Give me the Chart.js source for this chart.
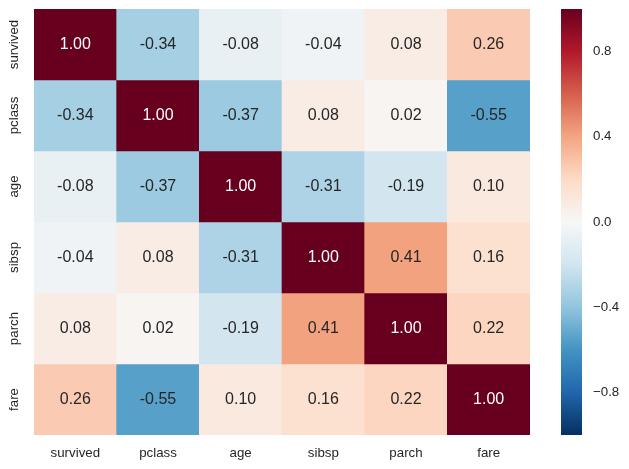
<!DOCTYPE html>
<html>
<head>
<meta charset="utf-8">
<script src="https://cdn.jsdelivr.net/npm/chart.js@4/dist/chart.umd.min.js"></script>
<style>
  html, body { margin: 0; padding: 0; background: #ffffff; }
  #wrap { position: relative; width: 629px; height: 469px; overflow: hidden; }
  #heat { position: absolute; left: 0; top: 0; }
  #cbar { position: absolute; left: 545px; top: 0; }
</style>
</head>
<body>
<div id="wrap">
  <canvas id="heat" width="545" height="469" style="width:545px;height:469px"></canvas>
  <canvas id="cbar" width="84" height="469" style="width:84px;height:469px"></canvas>
</div>
<script>
// ---- data ----
const columns = ['survived', 'pclass', 'age', 'sibsp', 'parch', 'fare'];
const rowLabels = ['survived', 'pclass', 'age', 'sibsp', 'parch', 'fare'];
const survivedRow = [1.00, -0.34, -0.08, -0.04, 0.08, 0.26];
const pclassRow   = [-0.34, 1.00, -0.37, 0.08, 0.02, -0.55];
const ageRow      = [-0.08, -0.37, 1.00, -0.31, -0.19, 0.10];
const sibspRow    = [-0.04, 0.08, -0.31, 1.00, 0.41, 0.16];
const parchRow    = [0.08, 0.02, -0.19, 0.41, 1.00, 0.22];
const fareRow     = [0.26, -0.55, 0.10, 0.16, 0.22, 1.00];
const colorbarTicks = [-0.8, -0.4, 0.0, 0.4, 0.8];
const vmin = -1, vmax = 1;

const matrix = [survivedRow, pclassRow, ageRow, sibspRow, parchRow, fareRow];

// ---- styles ----
const RDBU_R = ['#053061','#2166ac','#4393c3','#92c5de','#d1e5f0','#f7f7f7','#fddbc7','#f4a582','#d6604d','#b2182b','#67001f'];
const FONT = '"Liberation Sans", Arial, Helvetica, sans-serif';
const TEXT = '#262626';

function hexToRgb(h) {
  return [parseInt(h.slice(1,3),16), parseInt(h.slice(3,5),16), parseInt(h.slice(5,7),16)];
}
const anchorsRgb = RDBU_R.map(hexToRgb);
function cmapRgb(v) {
  let t = (v - vmin) / (vmax - vmin);
  t = Math.max(0, Math.min(1, t)) * (anchorsRgb.length - 1);
  const i = Math.min(Math.floor(t), anchorsRgb.length - 2);
  const f = t - i;
  const a = anchorsRgb[i], b = anchorsRgb[i + 1];
  return [0,1,2].map(k => a[k] + (b[k] - a[k]) * f);
}
function cmap(v) {
  const c = cmapRgb(v);
  return 'rgb(' + c.map(x => Math.round(x)).join(',') + ')';
}
function annotColor(v) {
  const c = cmapRgb(v).map(x => x / 255);
  const lum = 0.299 * c[0] + 0.587 * c[1] + 0.114 * c[2];
  return lum > 0.408 ? TEXT : '#ffffff';
}

// ---- heatmap ----
const datasets = matrix.map((row, i) => ({
  label: rowLabels[i],
  data: columns.map(() => [i, i + 1]),
  values: row,
  backgroundColor: row.map(cmap),
  borderWidth: 0,
  grouped: false,
  barPercentage: 1,
  categoryPercentage: 1
}));

const annotPlugin = {
  id: 'annot',
  afterDatasetsDraw(chart) {
    const ctx = chart.ctx;
    ctx.save();
    ctx.font = '16px ' + FONT;
    ctx.textAlign = 'center';
    ctx.textBaseline = 'middle';
    chart.data.datasets.forEach((ds, di) => {
      const meta = chart.getDatasetMeta(di);
      meta.data.forEach((el, j) => {
        const v = ds.values[j];
        ctx.fillStyle = annotColor(v);
        ctx.fillText(v.toFixed(2), el.x, (el.y + el.base) / 2);
      });
    });
    ctx.restore();
  }
};

new Chart(document.getElementById('heat'), {
  type: 'bar',
  data: { labels: columns, datasets },
  options: {
    responsive: false,
    animation: false,
    devicePixelRatio: 1,
    layout: { padding: { left: 0, top: 9, right: 15, bottom: 0 } },
    plugins: { legend: { display: false }, tooltip: { enabled: false } },
    scales: {
      x: {
        type: 'category',
        grid: { display: false },
        border: { display: false },
        ticks: { color: TEXT, font: { family: FONT, size: 13.3 }, padding: 2, maxRotation: 0, autoSkip: false },
        afterFit(s) { s.height = 34; s.paddingLeft = 0; s.paddingRight = 0; }
      },
      y: {
        type: 'linear',
        min: 0, max: rowLabels.length,
        reverse: true,
        grid: { display: false },
        border: { display: false },
        afterBuildTicks(axis) { axis.ticks = rowLabels.map((_, i) => ({ value: i + 0.5 })); },
        ticks: {
          color: TEXT, font: { family: FONT, size: 13.3 },
          minRotation: 90, maxRotation: 90, crossAlign: 'center', padding: -13,
          autoSkip: false,
          callback: (v) => rowLabels[Math.floor(v)]
        },
        afterFit(s) { s.width = 34; s.paddingTop = 0; s.paddingBottom = 0; }
      }
    }
  },
  plugins: [annotPlugin]
});

// ---- colorbar ----
new Chart(document.getElementById('cbar'), {
  type: 'bar',
  data: {
    labels: [''],
    datasets: [{
      data: [[vmin, vmax]],
      borderWidth: 0,
      barPercentage: 1,
      categoryPercentage: 1,
      backgroundColor(c) {
        const chart = c.chart;
        const area = chart.chartArea;
        if (!area) return null;
        const ys = chart.scales.y;
        const g = chart.ctx.createLinearGradient(0, ys.getPixelForValue(vmin), 0, ys.getPixelForValue(vmax));
        RDBU_R.forEach((col, k) => g.addColorStop(k / (RDBU_R.length - 1), col));
        return g;
      }
    }]
  },
  options: {
    responsive: false,
    animation: false,
    devicePixelRatio: 1,
    layout: { padding: { left: 16, top: 9, right: 0, bottom: 34 } },
    plugins: { legend: { display: false }, tooltip: { enabled: false } },
    scales: {
      x: { display: false },
      y: {
        type: 'linear',
        position: 'right',
        min: vmin, max: vmax,
        grid: { display: false },
        border: { display: false },
        afterBuildTicks(axis) { axis.ticks = colorbarTicks.map(v => ({ value: v })); },
        ticks: {
          color: TEXT, font: { family: FONT, size: 13.3 }, padding: 3,
          callback: (v) => v.toFixed(1).replace('-', '\u2212')
        },
        afterFit(s) { s.width = 47; s.paddingTop = 0; s.paddingBottom = 0; }
      }
    }
  }
});
</script>
</body>
</html>
